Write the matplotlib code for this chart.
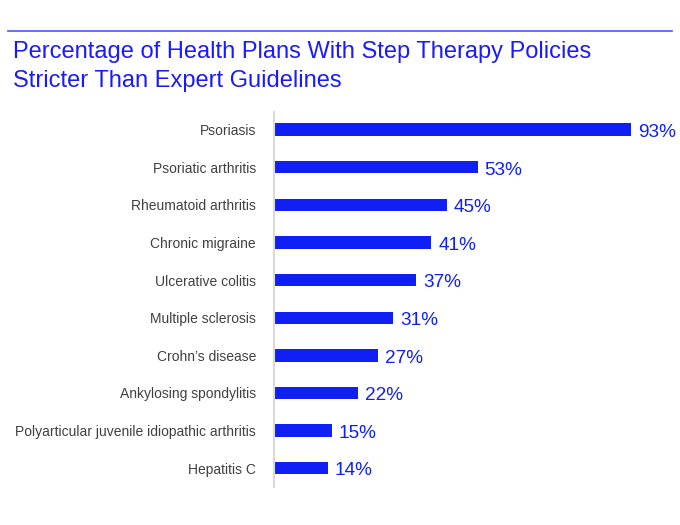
import matplotlib
matplotlib.use('Agg')
import matplotlib.pyplot as plt
from matplotlib.lines import Line2D

plt.rcParams['font.family'] = ['Liberation Sans', 'DejaVu Sans']

diseases = ['Psoriasis', 'Psoriatic arthritis', 'Rheumatoid arthritis', 'Chronic migraine',
            'Ulcerative colitis', 'Multiple sclerosis', 'Crohn\u2019s disease',
            'Ankylosing spondylitis', 'Polyarticular juvenile idiopathic arthritis', 'Hepatitis C']
percents = [93, 53, 45, 41, 37, 31, 27, 22, 15, 14]
title_lines = ['Percentage of Health Plans With Step Therapy Policies',
               'Stricter Than Expert Guidelines']

blue = '#1020f5'
fig = plt.figure(figsize=(6.8, 5.25), dpi=100)
ax = fig.add_axes([274/680, 38/525, 384/680, 375/525])

ypos = list(range(len(diseases)))
ax.barh(ypos, percents, height=0.33, color=blue)
ax.set_ylim(9.5, -0.47)
ax.set_xlim(0, 100)
ax.set_yticks(ypos)
ax.set_yticklabels(diseases, fontsize=10, color='#404040')
ax.tick_params(axis='y', length=0, pad=13)
ax.set_xticks([])
for s in ['top', 'right', 'bottom']:
    ax.spines[s].set_visible(False)
ax.spines['left'].set_color('#d9d9d9')
ax.spines['left'].set_linewidth(1.5)

for y, v in zip(ypos, percents):
    ax.annotate(f'{v}%', (v, y), xytext=(5, -2), textcoords='offset points',
                va='center', ha='left', fontsize=13.7, color=blue)

fig.add_artist(Line2D([8/680, 672/680], [1 - 31/525, 1 - 31/525], color='#4a55ff', lw=1.2))
for i, line in enumerate(title_lines):
    fig.text(13/680, 1 - (58 + 29*i)/525, line, fontsize=17, color='#1a1aff',
             va='baseline', ha='left')

fig.savefig('out.png', dpi=100)
